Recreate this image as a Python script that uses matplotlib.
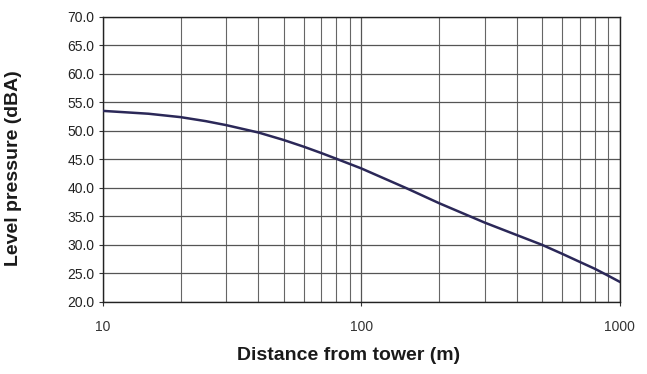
import matplotlib
matplotlib.use("Agg")
import matplotlib.pyplot as plt
from matplotlib.ticker import FixedLocator, NullFormatter, FixedFormatter

distance_m = [10, 15, 20, 25, 30, 40, 50, 60, 70, 80, 100, 150, 200, 300, 400, 500, 600, 700, 800, 900, 1000]
level_dba = [53.5, 53.0, 52.4, 51.7, 51.0, 49.7, 48.4, 47.2, 46.1, 45.1, 43.4, 39.9, 37.3, 33.9, 31.7, 30.0, 28.4, 27.0, 25.8, 24.6, 23.5]

x_major = [10, 100, 1000]
x_major_labels = ["10", "100", "1000"]
y_ticks = [20, 25, 30, 35, 40, 45, 50, 55, 60, 65, 70]

plt.rcParams['font.family'] = ['Liberation Sans', 'DejaVu Sans']

fig = plt.figure(figsize=(6.47, 3.74), dpi=100)
ax = fig.add_axes([0.159, 0.193, 0.799, 0.762])

ax.set_xscale('log')
ax.set_xlim(10, 1000)
ax.set_ylim(20, 70)

ax.plot(distance_m, level_dba, color='#2b2858', lw=1.8, zorder=3)

ax.xaxis.set_major_locator(FixedLocator(x_major))
ax.xaxis.set_major_formatter(FixedFormatter(x_major_labels))
minor = [m * d for d in (10, 100) for m in range(2, 10)]
ax.xaxis.set_minor_locator(FixedLocator(minor))
ax.xaxis.set_minor_formatter(NullFormatter())
ax.set_yticks(y_ticks)
ax.set_yticklabels([f"{v:.1f}" for v in y_ticks])

ax.grid(True, which='major', axis='both', color='#555555', lw=0.9)
ax.grid(True, which='minor', axis='x', color='#666666', lw=0.8)

for s in ax.spines.values():
    s.set_color('#222222')
    s.set_linewidth(1.0)

ax.tick_params(axis='y', which='major', length=3, labelsize=10, pad=3, color='#333333', labelcolor='#222222')
ax.tick_params(axis='x', which='major', length=3, labelsize=10, pad=10, color='#333333', labelcolor='#333333')
ax.tick_params(axis='x', which='minor', length=0)

ax.set_ylabel("Level pressure (dBA)", fontsize=14, fontweight='bold', color='#1a1a1a')
ax.set_xlabel("Distance from tower (m)", fontsize=14, fontweight='bold', color='#1a1a1a')
ax.yaxis.set_label_coords(-0.157, 0.47)
ax.xaxis.set_label_coords(0.475, -0.16)

fig.savefig("out.png", dpi=100, facecolor='white')
